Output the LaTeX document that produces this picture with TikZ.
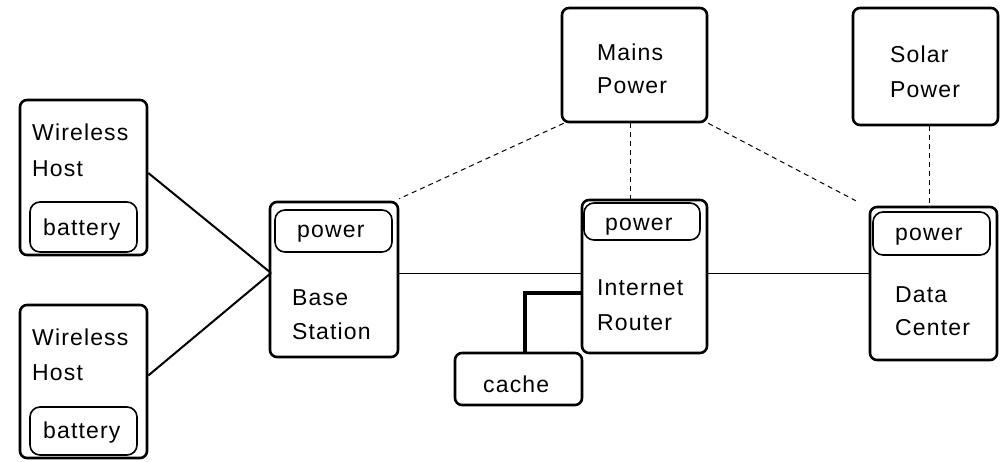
\documentclass[tikz,border=0pt]{standalone}
\usepackage{fontspec}
\setmainfont{Liberation Sans}[LetterSpace=5]
\usetikzlibrary{fit}
\tikzset{
  outer/.style={draw, line width=2.6pt, rounded corners=7pt, inner sep=0pt},
  inner/.style={draw, line width=1.6pt, rounded corners=10pt, inner sep=0pt},
  lbl/.style={anchor=base west, inner sep=0pt, font=\fontsize{23}{26}\selectfont},
  wire/.style={line width=2pt},
  link/.style={line width=1pt},
  feed/.style={line width=1pt, dash pattern=on 5pt off 4pt},
  fat/.style={line width=4pt},
}
\begin{document}
\begin{tikzpicture}[x=1pt,y=-1pt]
\useasboundingbox (0,0) rectangle (1004,461);
% boxes
\node[outer, fit={(20,100)(147,255)}] (wh1) {};
\node[inner, fit={(30,202)(137,252)}] (bat1) {};
\node[outer, fit={(20,305)(147,458)}] (wh2) {};
\node[inner, fit={(30,407)(137,455)}] (bat2) {};
\node[outer, fit={(270,202)(398,357)}] (bs) {};
\node[inner, fit={(275,210)(392,252)}] (bspw) {};
\node[outer, fit={(562,8)(707,122)}] (mains) {};
\node[outer, fit={(582,200)(707,353)}] (rtr) {};
\node[inner, fit={(584,203)(700,240)}] (rtrpw) {};
\node[outer, fit={(455,353)(582,405)}] (cache) {};
\node[outer, fit={(853,8)(998,125)}] (solar) {};
\node[outer, fit={(870,207)(997,360)}] (dc) {};
\node[inner, fit={(873,212)(990,255)}] (dcpw) {};
% labels
\node[lbl] (wh1a) at (32,140) {Wireless};
\node[lbl] (wh1b) at (32,176) {Host};
\node[lbl] (bat1t) at (43,235) {battery};
\node[lbl] (wh2a) at (32,345) {Wireless};
\node[lbl] (wh2b) at (32,380) {Host};
\node[lbl] (bat2t) at (43,438) {battery};
\node[lbl] (bspwt) at (297,237) {power};
\node[lbl] (bsa) at (292,305) {Base};
\node[lbl] (bsb) at (292,339) {Station};
\node[lbl] (mainsa) at (597,60) {Mains};
\node[lbl] (mainsb) at (597,93) {Power};
\node[lbl] (rtrpwt) at (605,230) {power};
\node[lbl] (rtra) at (597,295) {Internet};
\node[lbl] (rtrb) at (597,330) {Router};
\node[lbl] (cachet) at (483,392) {cache};
\node[lbl] (solara) at (890,62) {Solar};
\node[lbl] (solarb) at (890,97) {Power};
\node[lbl] (dcpwt) at (895,240) {power};
\node[lbl] (dca) at (895,302) {Data};
\node[lbl] (dcb) at (895,335) {Center};
% connectors
\coordinate (hub) at (271,273);
\draw[wire] ([yshift=4.5pt]wh1.east) -- (hub);
\draw[wire] ([yshift=6pt]wh2.east) -- (hub);
\draw[link] (bs.east |- hub) -- (rtr.west |- hub);
\draw[link] (rtr.east |- hub) -- (dc.west |- hub);
\draw[fat] ([yshift=-16.5pt]rtr.west) -| ([xshift=6.5pt]cache.north);
\draw[feed] ([xshift=3pt]mains.south west) -- ([yshift=2pt]bs.north east);
\draw[feed] ([xshift=-4.5pt]mains.south) -- ([xshift=-4.5pt]mains.south |- rtr.north);
\draw[feed] (mains.south east) -- ([xshift=-13pt,yshift=5pt]dc.north west);
\draw[feed] ([xshift=3.5pt]solar.south) -- ([xshift=3.5pt]solar.south |- dc.north);
\end{tikzpicture}
\end{document}
